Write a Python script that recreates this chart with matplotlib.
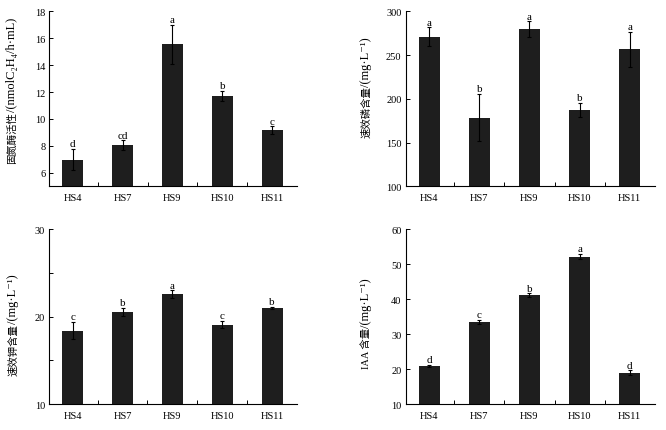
import matplotlib

matplotlib.use("Agg")

import matplotlib.pyplot as plt
import numpy as np
from matplotlib.ticker import MultipleLocator

plt.rcParams["font.family"] = ["Liberation Serif", "DejaVu Serif", "Noto Sans CJK SC"]

strains = ["HS4", "HS7", "HS9", "HS10", "HS11"]

# nitrogenase activity
nase_mean = [6.97, 8.05, 15.55, 11.7, 9.15]
nase_err = [0.78, 0.35, 1.48, 0.38, 0.3]
nase_sig = ["d", "cd", "a", "b", "c"]

# available phosphorus
p_mean = [271, 178.5, 279.8, 187.6, 257]
p_err = [11, 27, 9, 8, 20]
p_sig = ["a", "b", "a", "b", "a"]

# available potassium
k_mean = [18.4, 20.57, 22.56, 19.1, 21.0]
k_err = [1.0, 0.45, 0.45, 0.45, 0.15]
k_sig = ["c", "b", "a", "c", "b"]

# IAA
iaa_mean = [20.9, 33.5, 41.1, 52.2, 18.9]
iaa_err = [0.4, 0.5, 0.6, 0.8, 0.7]
iaa_sig = ["d", "c", "b", "a", "d"]

panels = [
    # rect, mean, err, sig, ylim, major, minor, (cjk, latin) label, label x, label centre
    ([0.0743, 0.5661, 0.3716, 0.4049], nase_mean, nase_err, nase_sig,
     (5, 18), 2, None, ("固氮酶活性", "/(nmolC₂H₄/h·mL)"), -0.139, 0.55),
    ([0.6092, 0.5654, 0.3739, 0.4056], p_mean, p_err, p_sig,
     (100, 300), 50, None, ("速效磷含量", "/(mg·L⁻¹)"), -0.147, 0.57),
    ([0.0740, 0.0603, 0.3720, 0.4053], k_mean, k_err, k_sig,
     (10, 30), 10, 5, ("速效钾含量", "/(mg·L⁻¹)"), -0.134, 0.458),
    ([0.6092, 0.0603, 0.3739, 0.4053], iaa_mean, iaa_err, iaa_sig,
     (10, 60), 10, None, ("IAA 含量", "/(mg·L⁻¹)"), -0.147, 0.466),
]

fig = plt.figure(figsize=(6.66, 4.31), dpi=100)
renderer = fig.canvas.get_renderer()


def stacked_ylabel(ax, parts, xpos, centre):
    """Vertical label made of a CJK piece and a larger Latin piece."""
    cjk = ax.text(xpos, 0, parts[0], transform=ax.transAxes, rotation=90,
                  rotation_mode="anchor", ha="left", va="baseline", fontsize=7.5,
                  family=["Liberation Serif", "Noto Sans CJK SC"])
    lat = ax.text(xpos, 0, parts[1], transform=ax.transAxes, rotation=90,
                  rotation_mode="anchor", ha="left", va="baseline", fontsize=9)
    ax_h = ax.get_window_extent(renderer).height
    h1 = cjk.get_window_extent(renderer).height / ax_h
    h2 = lat.get_window_extent(renderer).height / ax_h
    start = centre - (h1 + h2) / 2
    cjk.set_position((xpos, start))
    lat.set_position((xpos, start + h1))


for rect, mean, err, sig, ylim, major, minor, label, lx, lc in panels:
    ax = fig.add_axes(rect)
    x = np.arange(len(strains))
    ax.bar(x, mean, width=0.42, color="#1e1e1e", zorder=2)
    ax.errorbar(x, mean, yerr=err, fmt="none", ecolor="black",
                elinewidth=0.8, capsize=1.6, capthick=0.8, zorder=3)
    for xi, m, e, s in zip(x, mean, err, sig):
        ax.annotate(s, (xi, m + e), xytext=(0, 0.5), textcoords="offset points",
                    ha="center", va="bottom", fontsize=8)
    ax.set_xlim(-0.47, 4.5)
    ax.set_ylim(*ylim)
    ax.yaxis.set_major_locator(MultipleLocator(major))
    if minor:
        ax.yaxis.set_minor_locator(MultipleLocator(minor))
        ax.tick_params(axis="y", which="minor", direction="in", length=3, width=0.7)
    if ylim[0] == 5:
        ax.set_yticks(np.arange(6, 19, 2))
    ax.set_xticks(x)
    ax.set_xticklabels(strains, fontsize=7.5)
    ax.set_xticks(x[:-1] + 0.5, minor=True)
    ax.tick_params(axis="x", which="major", length=0, pad=5)
    ax.tick_params(axis="x", which="minor", direction="in", length=3, width=0.7)
    ax.tick_params(axis="y", which="major", direction="in", length=3, width=0.7,
                   labelsize=7.5, pad=3)
    ax.spines["top"].set_visible(False)
    ax.spines["right"].set_visible(False)
    for sp in ("left", "bottom"):
        ax.spines[sp].set_linewidth(0.8)
    stacked_ylabel(ax, label, lx, lc)

fig.savefig("out.png", dpi=100)
